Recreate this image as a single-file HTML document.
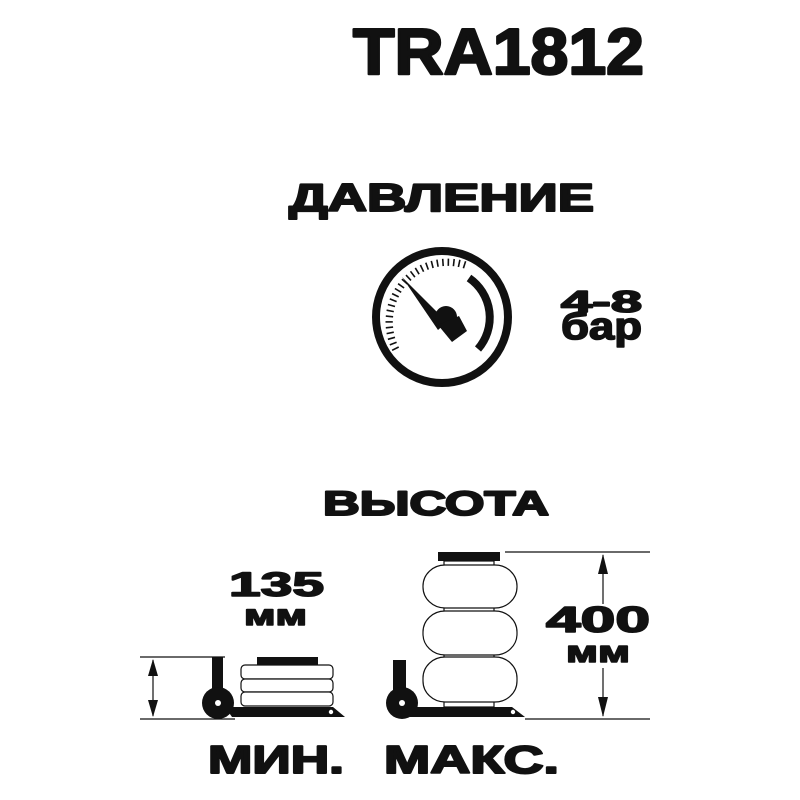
<!DOCTYPE html>
<html><head><meta charset="utf-8"><style>
html,body{margin:0;padding:0;background:#fff;}
svg{display:block}
text{font-family:"Liberation Sans",sans-serif;font-weight:bold;fill:#111;stroke:#111;stroke-width:1.6;stroke-linejoin:round;}
</style></head><body>
<svg width="800" height="800" viewBox="0 0 800 800" xmlns="http://www.w3.org/2000/svg">
<text x="353" y="74" font-size="65" textLength="291" lengthAdjust="spacingAndGlyphs" style="stroke-width:2.5">TRA1812</text>
<text x="289" y="211" font-size="39" textLength="305" lengthAdjust="spacingAndGlyphs" style="stroke-width:2">ДАВЛЕНИЕ</text>
<!-- gauge -->
<circle cx="442" cy="317" r="66" fill="none" stroke="#111" stroke-width="8"/>
<path d="M 469 278 A 48 48 0 0 1 478 349" fill="none" stroke="#111" stroke-width="8"/>
<polygon points="402,277 447,322 438,330" fill="#111"/>
<circle cx="446" cy="317" r="11" fill="#111"/>
<polygon points="438,325 459,316 467,331 452,342" fill="#111"/>
<text x="561" y="312" font-size="31" textLength="81" lengthAdjust="spacingAndGlyphs">4-8</text>
<text x="561" y="339" font-size="38" textLength="81" lengthAdjust="spacingAndGlyphs">бар</text>
<text x="323" y="515" font-size="34" textLength="226" lengthAdjust="spacingAndGlyphs" style="stroke-width:2">ВЫСОТА</text>
<text x="229" y="596" font-size="34" textLength="95" lengthAdjust="spacingAndGlyphs">135</text>
<text x="244" y="625" font-size="30" textLength="63" lengthAdjust="spacingAndGlyphs">мм</text>
<text x="546" y="632" font-size="36" textLength="104" lengthAdjust="spacingAndGlyphs">400</text>
<text x="566" y="662" font-size="31" textLength="64" lengthAdjust="spacingAndGlyphs">мм</text>
<text x="208" y="773" font-size="39" textLength="136" lengthAdjust="spacingAndGlyphs" style="stroke-width:2">МИН.</text>
<text x="384" y="773" font-size="39" textLength="175" lengthAdjust="spacingAndGlyphs" style="stroke-width:2">МАКС.</text>
<!-- dimensions -->
<g stroke="#111" stroke-width="1.2" fill="none">
<line x1="140" y1="657" x2="225" y2="657"/>
<line x1="140" y1="719" x2="235" y2="719"/>
<line x1="153" y1="660" x2="153" y2="716"/>
<line x1="505" y1="552" x2="650" y2="552"/>
<line x1="525" y1="719" x2="650" y2="719"/>
<line x1="603" y1="555" x2="603" y2="604"/>
<line x1="603" y1="668" x2="603" y2="716"/>
</g>
<g fill="#111">
<polygon points="153,659 148,676 158,676"/><polygon points="153,717 148,700 158,700"/>
<polygon points="603,554 598,574 608,574"/><polygon points="603,717 598,697 608,697"/>
</g>
<!-- left jack -->
<rect x="212" y="657" width="11" height="32" fill="#111"/>
<polygon points="225,707 333,707 345,717 232,717" fill="#111"/>
<circle cx="218" cy="703" r="16" fill="#111"/>
<circle cx="218" cy="703" r="3" fill="#fff"/>
<circle cx="331" cy="712" r="2.2" fill="#fff"/>
<g fill="#fff" stroke="#111" stroke-width="1.2">
<rect x="241" y="665" width="92" height="14" rx="4"/>
<rect x="241" y="679" width="92" height="13" rx="4"/>
<rect x="241" y="692" width="92" height="14" rx="4"/>
</g>
<rect x="257" y="657" width="61" height="8" fill="#111"/>
<!-- right jack -->
<rect x="393" y="660" width="13" height="30" fill="#111"/>
<polygon points="406,707 512,707 525,717 410,717" fill="#111"/>
<circle cx="402" cy="703" r="16" fill="#111"/>
<circle cx="402" cy="703" r="3" fill="#fff"/>
<circle cx="513" cy="712" r="2.2" fill="#fff"/>
<g fill="#fff" stroke="#111" stroke-width="1.2">
<rect x="444" y="561" width="50" height="6"/>
<rect x="444" y="606" width="50" height="6"/>
<rect x="444" y="653" width="50" height="6"/>
<rect x="444" y="700" width="50" height="7"/>
<rect x="423" y="565" width="94" height="43" rx="22" ry="21"/>
<rect x="423" y="611" width="94" height="44" rx="22" ry="21"/>
<rect x="423" y="657" width="94" height="45" rx="22" ry="21"/>
</g>
<rect x="438" y="552" width="62" height="9" fill="#111"/>
<g stroke="#111" stroke-width="1.6">
<line x1="398.7" y1="347.0" x2="392.1" y2="350.3"/><line x1="396.6" y1="342.2" x2="389.8" y2="344.9"/><line x1="395.0" y1="337.3" x2="387.9" y2="339.3"/><line x1="393.8" y1="332.2" x2="386.6" y2="333.6"/><line x1="393.1" y1="327.1" x2="385.8" y2="327.8"/><line x1="392.8" y1="321.9" x2="385.5" y2="321.9"/><line x1="393.1" y1="316.8" x2="385.8" y2="316.1"/><line x1="393.8" y1="311.6" x2="386.6" y2="310.2"/><line x1="395.0" y1="306.5" x2="387.9" y2="304.5"/><line x1="396.6" y1="301.6" x2="389.8" y2="298.9"/><line x1="398.7" y1="296.9" x2="392.1" y2="293.6"/><line x1="401.2" y1="292.3" x2="394.9" y2="288.5"/><line x1="404.1" y1="288.0" x2="398.1" y2="283.7"/><line x1="407.4" y1="284.0" x2="401.9" y2="279.2"/><line x1="411.0" y1="280.4" x2="406.0" y2="275.1"/><line x1="414.9" y1="277.1" x2="410.5" y2="271.3"/><line x1="419.1" y1="274.2" x2="415.3" y2="267.9"/><line x1="423.6" y1="271.7" x2="420.4" y2="265.0"/><line x1="428.3" y1="269.6" x2="425.8" y2="262.7"/><line x1="433.1" y1="268.0" x2="431.3" y2="260.9"/><line x1="438.1" y1="266.8" x2="436.9" y2="259.6"/><line x1="443.2" y1="266.1" x2="442.7" y2="258.8"/><line x1="448.3" y1="265.9" x2="448.4" y2="258.6"/><line x1="453.4" y1="266.2" x2="454.2" y2="259.0"/><line x1="458.4" y1="267.0" x2="459.9" y2="259.8"/><line x1="463.4" y1="268.3" x2="465.6" y2="261.3"/>
</g>
</svg>
</body></html>
